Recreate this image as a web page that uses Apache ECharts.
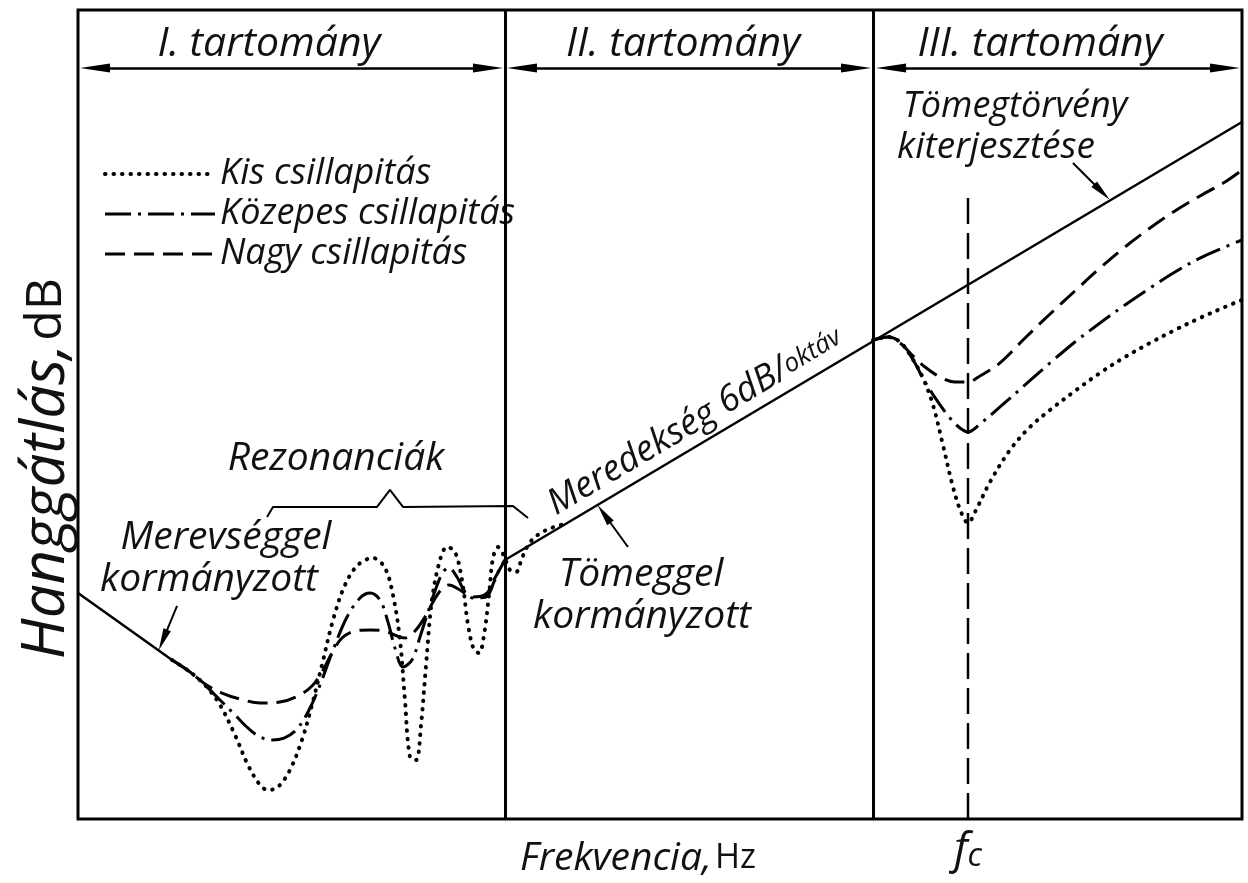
<!DOCTYPE html>
<html>
<head>
<meta charset="utf-8">
<script src="https://cdn.jsdelivr.net/npm/echarts@6/dist/echarts.min.js"></script>
<style>
html, body { margin: 0; padding: 0; background: #fff; }
#chart { width: 1248px; height: 883px; }
</style>
</head>
<body>
<div id="chart"></div>
<script>
// x: frekvencia (relativ egyseg 0..100), y: hanggatlas (relativ egyseg 0..100)
var regionBounds = [36.68, 68.3];
var fcValue = 76.46;
var headerY = 92.83;

var stiffLine = [[0, 27.94], [8.08, 19.65]];
var massLine = [[36.68, 32.02], [100, 86.16]];

var kisLow = [[8.08,19.65],[9.62,18.17],[10.91,16.56],[12.20,14.09],[13.49,10.38],[14.60,6.68],[15.64,4.20],[16.32,3.58],[17.18,3.96],[18.21,6.06],[19.24,9.77],[20.10,14.09],[20.96,19.04],[21.91,24.60],[22.94,28.93],[24.05,31.40],[25.34,32.26],[26.37,31.03],[27.06,27.69],[27.66,22.13],[28.09,14.71],[28.52,7.67],[29.04,7.29],[29.47,11.62],[29.90,19.04],[30.41,27.07],[31.10,32.02],[31.70,33.62],[32.39,33.00],[32.99,29.54],[33.51,23.98],[34.02,20.89],[34.45,20.52],[34.88,22.74],[35.31,27.69],[35.65,32.26],[36.08,33.62],[36.60,32.51],[37.11,30.78],[37.63,30.53],[38.14,32.26],[38.83,34.2],[39.69,35.3],[40.72,36.0],[41.92,36.5]];
var kisHigh = [[68.30,59.21],[69.59,59.58],[70.62,58.96],[71.65,56.98],[72.59,54.51],[73.45,51.18],[74.31,46.23],[75.17,41.04],[75.86,37.95],[76.46,36.59],[77.15,38.20],[78.35,41.66],[80.07,45.61],[81.79,48.46],[83.51,50.56],[85.65,52.91],[87.80,55.13],[89.95,57.11],[92.10,58.84],[94.24,60.45],[96.39,61.93],[98.54,63.29],[100,64.16]];

var kozLow = [[8.08,19.65],[9.62,18.17],[10.91,16.56],[12.20,14.71],[13.49,12.86],[14.60,11.25],[15.64,10.14],[16.67,9.77],[17.70,10.01],[18.73,11.00],[19.76,13.23],[20.79,16.56],[21.91,20.89],[23.11,24.97],[24.23,27.32],[25.09,27.94],[25.95,27.07],[26.63,24.35],[27.23,21.14],[27.92,18.79],[28.69,19.65],[29.38,22.50],[30.07,25.59],[30.76,28.55],[31.36,30.53],[31.87,31.03],[32.56,29.91],[33.25,28.06],[33.93,27.32],[35.05,27.44],[35.74,29.30],[36.25,31.03],[36.68,32.02]];
var kozHigh = [[68.30,59.21],[69.59,59.58],[70.62,58.96],[71.65,56.98],[72.77,54.02],[73.88,51.55],[74.91,49.57],[75.77,48.33],[76.46,47.84],[77.49,48.83],[79.21,50.93],[81.36,53.65],[83.51,56.37],[85.65,58.96],[87.80,61.31],[89.95,63.54],[92.10,65.64],[94.24,67.61],[96.39,69.34],[98.54,70.71],[100,71.57]];

var nagyLow = [[8.08,19.65],[9.62,18.17],[10.91,16.69],[12.37,15.57],[13.92,14.83],[15.64,14.34],[17.35,14.46],[18.90,15.21],[20.10,16.44],[20.96,18.17],[21.82,20.52],[22.68,22.37],[23.80,23.24],[25.09,23.36],[26.37,23.24],[27.41,22.62],[28.09,22.37],[28.95,23.24],[29.81,24.97],[30.50,26.82],[31.19,28.31],[31.87,28.93],[32.82,28.31],[33.85,27.44],[35.05,27.81],[35.82,29.79],[36.68,32.02]];
var nagyHigh = [[68.30,59.21],[69.59,59.58],[70.62,58.84],[71.65,57.36],[72.77,55.87],[74.05,54.64],[75.34,54.02],[76.46,54.02],[77.49,54.76],[79.21,56.37],[81.36,59.46],[83.51,62.42],[85.65,65.27],[87.80,68.11],[89.95,70.71],[92.10,73.05],[94.24,75.16],[96.39,77.01],[98.54,78.74],[100,80.22]];

var bracket = [[16.24,37.33],[16.75,38.57],[25.69,38.57],[26.80,40.67],[27.92,38.57],[37.37,38.69],[38.66,37.21]];
var fcLine = [[76.46, 0], [76.46, 76.9]];

var regionTitles = ['I. tartomány', 'II. tartomány', 'III. tartomány'];
var legendNames = ['Kis csillapitás', 'Közepes csillapitás', 'Nagy csillapitás'];

var FONT = "'Open Sans', 'DejaVu Sans', sans-serif";
var arrowPath = 'path://M5,0L10,30L0,30Z';

var styleKis = { color: '#000', width: 4, type: [0.5, 8], cap: 'round' };
var styleKoz = { color: '#000', width: 3, type: [26, 7, 3, 7] };
var styleNagy = { color: '#000', width: 3, type: [20, 9] };

function curve(name, data, ls) {
    return {
        name: name, type: 'line', data: data, showSymbol: false, symbol: 'none',
        smooth: 0.35, lineStyle: ls, z: 5, silent: true
    };
}

function txt(str, x, y, size, extra) {
    var el = {
        type: 'text', x: x, y: y, silent: true,
        style: {
            text: str, fill: '#111', fontSize: size, fontFamily: FONT, fontStyle: 'italic',
            align: 'center', verticalAlign: 'middle', textAlign: 'center', textVerticalAlign: 'middle'
        }
    };
    if (extra) {
        for (var k in extra) el[k] = extra[k];
    }
    return el;
}

var myChart = echarts.init(document.getElementById('chart'));
var option = {
    animation: false,
    backgroundColor: '#fff',
    grid: {
        left: 78, right: 6, top: 10, bottom: 64,
        containLabel: false, outerBoundsMode: 'none',
        show: true, borderColor: '#000', borderWidth: 3
    },
    legend: {
        orient: 'vertical', left: 98, top: 151,
        itemWidth: 110, itemHeight: 14, itemGap: 4,
        selectedMode: false,
        data: [
            { name: legendNames[0], itemStyle: { opacity: 0 }, lineStyle: styleKis },
            { name: legendNames[1], itemStyle: { opacity: 0 }, lineStyle: styleKoz },
            { name: legendNames[2], itemStyle: { opacity: 0 }, lineStyle: styleNagy }
        ],
        textStyle: { fontFamily: FONT, fontStyle: 'italic', fontSize: 36, lineHeight: 36, color: '#111' }
    },
    xAxis: {
        type: 'value', min: 0, max: 100,
        axisLine: { show: false }, axisTick: { show: false }, splitLine: { show: false },
        axisLabel: {
            customValues: [fcValue], margin: 8,
            formatter: function () { return '{f|f}{c|c}'; },
            rich: {
                f: { fontFamily: FONT, fontStyle: 'italic', fontSize: 44, color: '#111' },
                c: { fontFamily: FONT, fontStyle: 'italic', fontSize: 32, color: '#111', padding: [14, 0, 0, 0] }
            }
        },
        name: '{a|Frekvencia,} {b|Hz}',
        nameLocation: 'middle', nameGap: 20, nameMoveOverlap: false,
        nameTextStyle: {
            padding: [0, 44, 0, 0],
            rich: {
                a: { fontFamily: FONT, fontStyle: 'italic', fontSize: 39, color: '#111' },
                b: { fontFamily: FONT, fontSize: 34, color: '#111' }
            }
        }
    },
    yAxis: {
        type: 'value', min: 0, max: 100,
        axisLine: { show: false }, axisTick: { show: false }, splitLine: { show: false },
        axisLabel: { show: false },
        name: '{a|Hanggátlás,} {b|dB}',
        nameLocation: 'middle', nameGap: 1, nameMoveOverlap: false,
        nameTextStyle: {
            padding: [0, 108, 0, 0],
            rich: {
                a: { fontFamily: FONT, fontStyle: 'italic', fontSize: 60, color: '#111' },
                b: { fontFamily: FONT, fontSize: 50, color: '#111' }
            }
        }
    },
    series: [
        {
            name: 'Merevséggel kormányzott', type: 'line', data: stiffLine, symbol: 'none',
            lineStyle: { color: '#000', width: 2.5 }, silent: true, z: 4
        },
        {
            name: 'Tömeggel kormányzott', type: 'line', data: massLine, symbol: 'none',
            lineStyle: { color: '#000', width: 2.5 }, silent: true, z: 4,
            markLine: {
                silent: true, symbol: ['none', 'none'], animation: false,
                label: { show: false },
                lineStyle: { color: '#000', width: 3, type: 'solid' },
                data: [
                    { xAxis: regionBounds[0] },
                    { xAxis: regionBounds[1] },
                    // tartomany nyilak
                    [{ coord: [1.46, headerY], symbol: arrowPath, symbolSize: [9, 30], lineStyle: { width: 2.5 } },
                     { coord: [35.22, headerY], symbol: arrowPath, symbolSize: [9, 30] }],
                    [{ coord: [38.14, headerY], symbol: arrowPath, symbolSize: [9, 30], lineStyle: { width: 2.5 } },
                     { coord: [66.84, headerY], symbol: arrowPath, symbolSize: [9, 30] }],
                    [{ coord: [69.85, headerY], symbol: arrowPath, symbolSize: [9, 30], lineStyle: { width: 2.5 } },
                     { coord: [98.54, headerY], symbol: arrowPath, symbolSize: [9, 30] }],
                    // mutato nyilak
                    [{ coord: [8.51, 26.33], symbol: 'none', lineStyle: { width: 2 } },
                     { coord: [7.30, 22.13], symbol: arrowPath, symbolSize: [8, 22] }],
                    [{ coord: [47.25, 33.62], symbol: 'none', lineStyle: { width: 2 } },
                     { coord: [45.19, 37.70], symbol: arrowPath, symbolSize: [8, 22] }],
                    [{ coord: [85.48, 81.09], symbol: 'none', lineStyle: { width: 2 } },
                     { coord: [87.97, 77.50], symbol: arrowPath, symbolSize: [8, 22] }]
                ]
            }
        },
        curve(legendNames[0], kisLow, styleKis),
        curve(legendNames[0], kisHigh, styleKis),
        curve(legendNames[1], kozLow, styleKoz),
        curve(legendNames[1], kozHigh, styleKoz),
        curve(legendNames[2], nagyLow, styleNagy),
        curve(legendNames[2], nagyHigh, styleNagy),
        {
            name: 'Rezonanciák', type: 'line', data: bracket, symbol: 'none',
            lineStyle: { color: '#000', width: 2 }, silent: true
        },
        {
            name: 'fc', type: 'line', data: fcLine, symbol: 'none',
            lineStyle: { color: '#000', width: 2.5, type: [26, 9] }, silent: true, z: 3
        }
    ],
    graphic: {
        elements: [
            txt(regionTitles[0], 269, 44, 41),
            txt(regionTitles[1], 683, 44, 41),
            txt(regionTitles[2], 1040, 44, 41),
            txt('Rezonanciák', 336, 459, 39),
            txt('Merevséggel', 226, 538, 39),
            txt('kormányzott', 209, 580, 39),
            txt('Tömeggel', 641, 575, 39),
            txt('kormányzott', 642, 617, 39),
            txt('Tömegtörvény', 1015, 107, 36),
            txt('kiterjesztése', 996, 147, 37),
            {
                type: 'text', x: 695, y: 421, rotation: 0.536, silent: true,
                style: {
                    text: '{m|Meredekség 6dB/}{o|oktáv}',
                    align: 'center', verticalAlign: 'middle', textAlign: 'center', textVerticalAlign: 'middle',
                    rich: {
                        m: { fontFamily: FONT, fontStyle: 'italic', fontSize: 36, fill: '#111' },
                        o: { fontFamily: FONT, fontStyle: 'italic', fontSize: 26, fill: '#111' }
                    }
                }
            }
        ]
    }
};
myChart.setOption(option);
</script>
</body>
</html>
